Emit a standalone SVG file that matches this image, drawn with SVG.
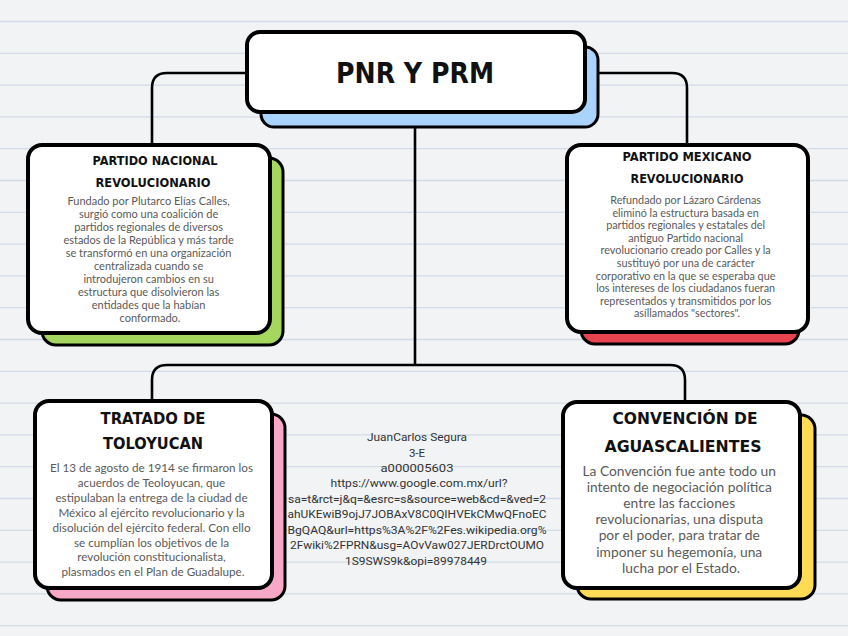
<svg xmlns="http://www.w3.org/2000/svg" width="848" height="636" viewBox="0 0 848 636">
<style>
.bg{fill:#f1f3f5}
.rule{stroke:#d3dbe8;stroke-width:1.3}
.box{fill:#ffffff;stroke:#000;stroke-width:4}
.sh{stroke:#000;stroke-width:3}
.conn{fill:none;stroke:#000;stroke-width:2.6}
.title{font-family:"DejaVu Sans",sans-serif;font-weight:bold;fill:#111;text-anchor:middle}
.body{font-family:Lato,"Noto Sans",sans-serif;fill:#5a5a5a;text-anchor:middle}
.mid{font-family:Roboto,"Liberation Sans",sans-serif;fill:#333;text-anchor:middle;font-size:11.5px}
</style>
<rect class="bg" x="0" y="0" width="848" height="636"/>
<g id="rules">
<line class="rule" x1="0" y1="21.5" x2="848" y2="21.5"/>
<line class="rule" x1="0" y1="53.3" x2="848" y2="53.3"/>
<line class="rule" x1="0" y1="85.1" x2="848" y2="85.1"/>
<line class="rule" x1="0" y1="116.9" x2="848" y2="116.9"/>
<line class="rule" x1="0" y1="148.7" x2="848" y2="148.7"/>
<line class="rule" x1="0" y1="180.5" x2="848" y2="180.5"/>
<line class="rule" x1="0" y1="212.3" x2="848" y2="212.3"/>
<line class="rule" x1="0" y1="244.1" x2="848" y2="244.1"/>
<line class="rule" x1="0" y1="275.9" x2="848" y2="275.9"/>
<line class="rule" x1="0" y1="307.7" x2="848" y2="307.7"/>
<line class="rule" x1="0" y1="339.5" x2="848" y2="339.5"/>
<line class="rule" x1="0" y1="371.3" x2="848" y2="371.3"/>
<line class="rule" x1="0" y1="403.1" x2="848" y2="403.1"/>
<line class="rule" x1="0" y1="434.9" x2="848" y2="434.9"/>
<line class="rule" x1="0" y1="466.7" x2="848" y2="466.7"/>
<line class="rule" x1="0" y1="498.5" x2="848" y2="498.5"/>
<line class="rule" x1="0" y1="530.3" x2="848" y2="530.3"/>
<line class="rule" x1="0" y1="562.1" x2="848" y2="562.1"/>
<line class="rule" x1="0" y1="593.9" x2="848" y2="593.9"/>
<line class="rule" x1="0" y1="625.7" x2="848" y2="625.7"/>
</g>
<g id="connectors">
<path class="conn" d="M247,73 H167 Q152,73 152,88 V145"/>
<path class="conn" d="M598,73 H672 Q687,73 687,88 V144"/>
<path class="conn" d="M415,127 V365"/>
<path class="conn" d="M152,400 V380 Q152,365 167,365 H670 Q685,365 685,380 V400"/>
</g>
<g id="main">
<rect class="sh" x="261" y="47" width="337" height="80" rx="13" fill="#a9d3fb"/>
<rect class="box" x="247" y="32" width="338" height="80" rx="13"/>
<text class="title" x="415" y="83" font-size="28" textLength="158" lengthAdjust="spacingAndGlyphs">PNR Y PRM</text>
</g>
<g id="pnr">
<rect class="sh" x="42" y="158" width="241" height="187" rx="14" fill="#a5d75f"/>
<rect class="box" x="28" y="145" width="242" height="188" rx="14"/>
<text class="title" x="155" y="165" font-size="12" textLength="125" lengthAdjust="spacingAndGlyphs">PARTIDO NACIONAL</text>
<text class="title" x="153" y="187" font-size="12" textLength="115" lengthAdjust="spacingAndGlyphs">REVOLUCIONARIO</text>
<text class="body" font-size="11">
<tspan x="150" y="205">Fundado por Plutarco Elías Calles,</tspan>
<tspan x="150" y="218">surgió como una coalición de</tspan>
<tspan x="150" y="231">partidos regionales de diversos</tspan>
<tspan x="150" y="244">estados de la República y más tarde</tspan>
<tspan x="150" y="257">se transformó en una organización</tspan>
<tspan x="150" y="270">centralizada cuando se</tspan>
<tspan x="150" y="283">introdujeron cambios en su</tspan>
<tspan x="150" y="296">estructura que disolvieron las</tspan>
<tspan x="150" y="309">entidades que la habían</tspan>
<tspan x="150" y="322">conformado.</tspan>
</text>
</g>
<g id="prm">
<rect class="sh" x="581" y="160" width="218" height="184" rx="14" fill="#e8444f"/>
<rect class="box" x="567" y="145" width="241" height="187" rx="14"/>
<text class="title" x="687" y="161" font-size="12" textLength="129" lengthAdjust="spacingAndGlyphs">PARTIDO MEXICANO</text>
<text class="title" x="687" y="183" font-size="12" textLength="113" lengthAdjust="spacingAndGlyphs">REVOLUCIONARIO</text>
<text class="body" font-size="10.8">
<tspan x="687" y="204">Refundado por Lázaro Cárdenas</tspan>
<tspan x="687" y="216.6">eliminó la estructura basada en</tspan>
<tspan x="687" y="229.2">partidos regionales y estatales del</tspan>
<tspan x="687" y="241.8">antiguo Partido nacional</tspan>
<tspan x="687" y="254.4">revolucionario creado por Calles y la</tspan>
<tspan x="687" y="267">sustituyó por una de carácter</tspan>
<tspan x="687" y="279.6">corporativo en la que se esperaba que</tspan>
<tspan x="687" y="292.2">los intereses de los ciudadanos fueran</tspan>
<tspan x="687" y="304.8">representados y transmitidos por los</tspan>
<tspan x="687" y="317.4">asíllamados "sectores".</tspan>
</text>
</g>
<g id="toloyucan">
<rect class="sh" x="47" y="414" width="238" height="186" rx="14" fill="#f7a8c7"/>
<rect class="box" x="35" y="401" width="237" height="187" rx="14"/>
<text class="title" x="153" y="424" font-size="15" textLength="105" lengthAdjust="spacingAndGlyphs">TRATADO DE</text>
<text class="title" x="153" y="449" font-size="15" textLength="100" lengthAdjust="spacingAndGlyphs">TOLOYUCAN</text>
<text class="body" font-size="11.7">
<tspan x="153" y="472">El 13 de agosto de 1914 se firmaron los</tspan>
<tspan x="153" y="486.9">acuerdos de Teoloyucan, que</tspan>
<tspan x="153" y="501.8">estipulaban la entrega de la ciudad de</tspan>
<tspan x="153" y="516.7">México al ejército revolucionario y la</tspan>
<tspan x="153" y="531.6">disolución del ejército federal. Con ello</tspan>
<tspan x="153" y="546.5">se cumplían los objetivos de la</tspan>
<tspan x="153" y="561.4">revolución constitucionalista,</tspan>
<tspan x="153" y="576.3">plasmados en el Plan de Guadalupe.</tspan>
</text>
</g>
<g id="aguascalientes">
<rect class="sh" x="577" y="415" width="238" height="184" rx="14" fill="#fedb55"/>
<rect class="box" x="563" y="402" width="237" height="186" rx="14"/>
<text class="title" x="685" y="424" font-size="15" textLength="145" lengthAdjust="spacingAndGlyphs">CONVENCIÓN DE</text>
<text class="title" x="683" y="452" font-size="15" textLength="157" lengthAdjust="spacingAndGlyphs">AGUASCALIENTES</text>
<text class="body" font-size="13.8">
<tspan x="681" y="476">La Convención fue ante todo un</tspan>
<tspan x="681" y="492.1">intento de negociación política</tspan>
<tspan x="681" y="508.2">entre las facciones</tspan>
<tspan x="681" y="524.3">revolucionarias, una disputa</tspan>
<tspan x="681" y="540.4">por el poder, para tratar de</tspan>
<tspan x="681" y="556.5">imponer su hegemonía, una</tspan>
<tspan x="681" y="572.6">lucha por el Estado.</tspan>
</text>
</g>
<g id="author">
<text class="mid" x="417" y="441" textLength="100" lengthAdjust="spacingAndGlyphs">JuanCarlos Segura</text>
<text class="mid" x="417" y="457">3-E</text>
<text class="mid" x="417" y="472" textLength="73" lengthAdjust="spacingAndGlyphs">a000005603</text>
<text class="mid" x="419" y="487" textLength="177" lengthAdjust="spacingAndGlyphs">https://www.google.com.mx/url?</text>
<text class="mid" x="417" y="502.5" textLength="258" lengthAdjust="spacingAndGlyphs">sa=t&amp;rct=j&amp;q=&amp;esrc=s&amp;source=web&amp;cd=&amp;ved=2</text>
<text class="mid" x="417" y="518" textLength="259" lengthAdjust="spacingAndGlyphs">ahUKEwiB9ojJ7JOBAxV8C0QIHVEkCMwQFnoEC</text>
<text class="mid" x="417" y="533.5" textLength="259" lengthAdjust="spacingAndGlyphs">BgQAQ&amp;url=https%3A%2F%2Fes.wikipedia.org%</text>
<text class="mid" x="417" y="549" textLength="254" lengthAdjust="spacingAndGlyphs">2Fwiki%2FPRN&amp;usg=AOvVaw027JERDrctOUMO</text>
<text class="mid" x="416" y="564.5" textLength="142" lengthAdjust="spacingAndGlyphs">1S9SWS9k&amp;opi=89978449</text>
</g>
</svg>
